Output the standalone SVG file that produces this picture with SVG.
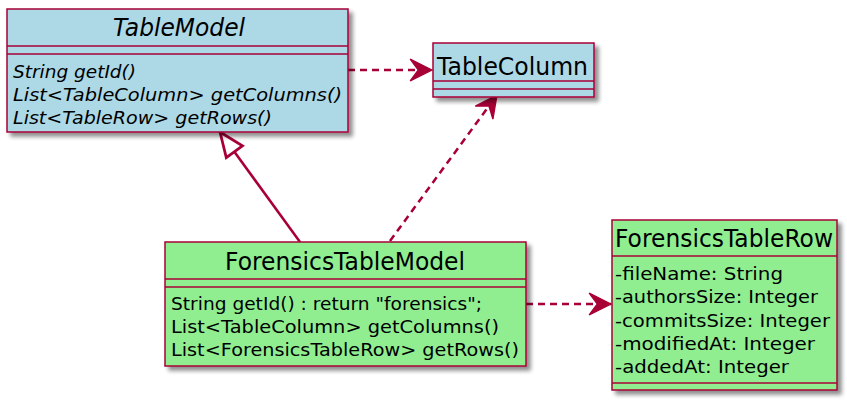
<svg xmlns="http://www.w3.org/2000/svg" width="847" height="400" viewBox="0 0 847 400">
<defs>
<filter id="sh" x="-10%" y="-10%" width="130%" height="130%">
<feGaussianBlur in="SourceAlpha" stdDeviation="2"/>
<feOffset dx="4" dy="4" result="b"/>
<feComponentTransfer><feFuncA type="linear" slope="0.45"/></feComponentTransfer>
<feMerge><feMergeNode/><feMergeNode in="SourceGraphic"/></feMerge>
</filter>
<marker id="dep" markerUnits="userSpaceOnUse" markerWidth="30" markerHeight="30" viewBox="-20 -10 22 20" refX="0" refY="0" orient="auto">
<polygon points="0,0 -16,-8 -10,0 -16,8" fill="#A80036" stroke="#A80036" stroke-width="1" stroke-linejoin="miter"/>
</marker>
<marker id="inh" markerUnits="userSpaceOnUse" markerWidth="30" markerHeight="30" viewBox="-25 -12 27 24" refX="0" refY="0" orient="auto">
<polygon points="0,0 -22,-9 -22,9" fill="#FFFFFF" stroke="#A80036" stroke-width="2.5"/>
</marker>
</defs>
<style>
.box{stroke:#A80036;stroke-width:1.5;filter:url(#sh)}
.blue{fill:#ADD8E6}
.green{fill:#90EE90}
.sep{stroke:#A80036;stroke-width:1.5}
.t{font-family:"DejaVu Sans","Liberation Sans",sans-serif;fill:#000}
.h{font-size:24px}
.m{font-size:18px}
.i{font-style:italic}
.c{fill:none;stroke:#A80036;stroke-width:2.5}
.d{stroke-dasharray:7,5}
</style>
<rect width="847" height="400" fill="#FFFFFF"/>
<g id="connectors">
<path class="c d" d="M348,70 L432,70" marker-end="url(#dep)"/>
<path class="c d" d="M390,241 L497,95" marker-end="url(#dep)"/>
<path class="c d" d="M526,304 L611,304" marker-end="url(#dep)"/>
<path class="c" d="M300,242 L220,132" marker-end="url(#inh)"/>
</g>
<g id="TableModel">
<rect class="box blue" x="7" y="9" width="341" height="123"/>
<line class="sep" x1="7" y1="46" x2="348" y2="46"/>
<line class="sep" x1="7" y1="54" x2="348" y2="54"/>
<text class="t h i" x="113" y="36" textLength="132" lengthAdjust="spacingAndGlyphs">TableModel</text>
<text class="t m i" x="13" y="78" textLength="123" lengthAdjust="spacingAndGlyphs">String getId()</text>
<text class="t m i" x="13" y="101" textLength="329" lengthAdjust="spacingAndGlyphs">List&lt;TableColumn&gt; getColumns()</text>
<text class="t m i" x="13" y="124" textLength="259" lengthAdjust="spacingAndGlyphs">List&lt;TableRow&gt; getRows()</text>
</g>
<g id="TableColumn">
<rect class="box blue" x="433" y="43" width="161" height="54"/>
<line class="sep" x1="433" y1="81" x2="594" y2="81"/>
<line class="sep" x1="433" y1="89" x2="594" y2="89"/>
<text class="t h" x="437" y="75" textLength="151" lengthAdjust="spacingAndGlyphs">TableColumn</text>
</g>
<g id="ForensicsTableModel">
<rect class="box green" x="165" y="242" width="361" height="124"/>
<line class="sep" x1="165" y1="279" x2="526" y2="279"/>
<line class="sep" x1="165" y1="287" x2="526" y2="287"/>
<text class="t h" x="225" y="270" textLength="240" lengthAdjust="spacingAndGlyphs">ForensicsTableModel</text>
<text class="t m" x="171" y="310" textLength="311" lengthAdjust="spacingAndGlyphs">String getId() : return "forensics";</text>
<text class="t m" x="171" y="333" textLength="328" lengthAdjust="spacingAndGlyphs">List&lt;TableColumn&gt; getColumns()</text>
<text class="t m" x="171" y="356" textLength="348" lengthAdjust="spacingAndGlyphs">List&lt;ForensicsTableRow&gt; getRows()</text>
</g>
<g id="ForensicsTableRow">
<rect class="box green" x="612" y="220" width="225" height="170"/>
<line class="sep" x1="612" y1="256" x2="837" y2="256"/>
<line class="sep" x1="612" y1="383" x2="837" y2="383"/>
<text class="t h" x="615" y="247" textLength="218" lengthAdjust="spacingAndGlyphs">ForensicsTableRow</text>
<text class="t m" x="615" y="280" textLength="168" lengthAdjust="spacingAndGlyphs">-fileName: String</text>
<text class="t m" x="615" y="303" textLength="203" lengthAdjust="spacingAndGlyphs">-authorsSize: Integer</text>
<text class="t m" x="615" y="327" textLength="215" lengthAdjust="spacingAndGlyphs">-commitsSize: Integer</text>
<text class="t m" x="615" y="350" textLength="200" lengthAdjust="spacingAndGlyphs">-modifiedAt: Integer</text>
<text class="t m" x="615" y="373" textLength="174" lengthAdjust="spacingAndGlyphs">-addedAt: Integer</text>
</g>
</svg>
